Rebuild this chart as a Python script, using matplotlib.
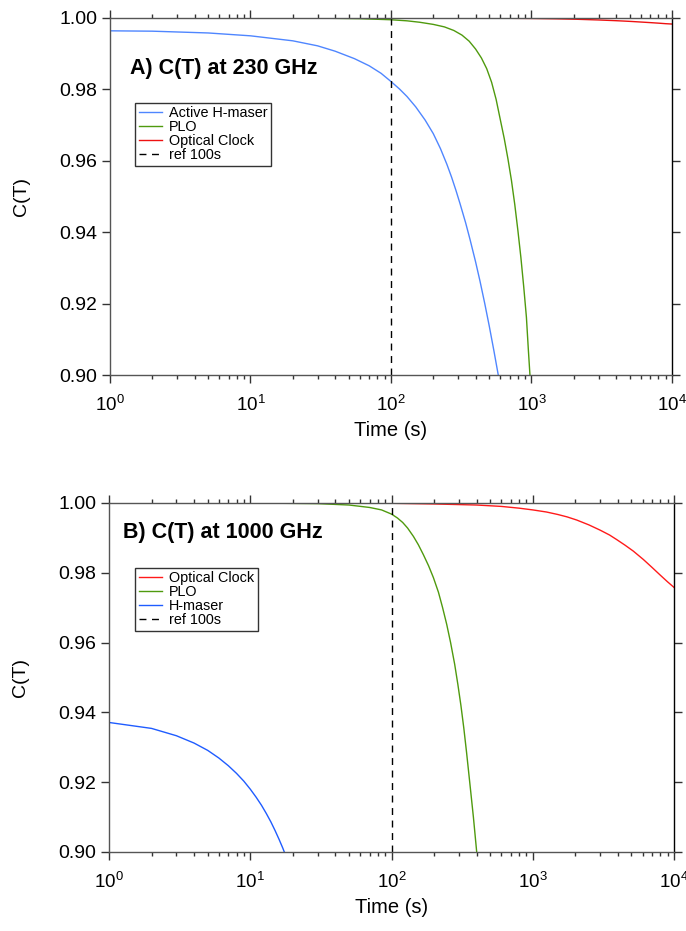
import numpy as np
import matplotlib
matplotlib.use("Agg")
import matplotlib.pyplot as plt
from matplotlib.ticker import FixedLocator, FormatStrFormatter, LogLocator

plt.rcParams['font.family'] = ['Liberation Sans', 'DejaVu Sans']
plt.rcParams['mathtext.fontset'] = 'custom'
plt.rcParams['mathtext.rm'] = 'Liberation Sans'

# ---- panel A: 230 GHz ----
a_maser_t = [1, 2, 5, 10, 20, 30, 40, 55, 70, 85, 100, 115, 130, 150, 175, 200, 225, 250,
             270, 290, 310, 340, 365, 400, 430, 465, 500, 540, 580]
a_maser_c = [0.9964, 0.9963, 0.9958, 0.9950, 0.9936, 0.9922, 0.9907, 0.9886, 0.9866, 0.9845,
             0.9822, 0.9801, 0.9780, 0.9751, 0.9714, 0.9676, 0.9634, 0.9590, 0.9554, 0.9517,
             0.9480, 0.9426, 0.9380, 0.9317, 0.9263, 0.9200, 0.9138, 0.9068, 0.9000]

a_plo_t = [1, 10, 30, 60, 100, 130, 160, 200, 240, 280, 320, 360, 400, 440, 480, 520, 560,
           600, 640, 680, 720, 760, 800, 840, 880, 920, 950, 975]
a_plo_c = [1.0, 0.99999, 0.99995, 0.9998, 0.9995, 0.9992, 0.9988, 0.9982, 0.9975, 0.9965,
           0.9952, 0.9935, 0.9913, 0.9888, 0.9858, 0.9820, 0.9772, 0.9715, 0.9662, 0.9605,
           0.9545, 0.9478, 0.9405, 0.9330, 0.9248, 0.9162, 0.9070, 0.9000]

a_opt_t = [1, 100, 500, 1000, 1500, 2048, 3000, 3928, 4500, 5150, 6067, 7000, 8000, 9000,
           10000]
a_opt_c = [1.0, 0.99999, 0.99995, 0.99986, 0.99976, 0.99965, 0.99944, 0.99925, 0.99914,
           0.99902, 0.99885, 0.99870, 0.99855, 0.99840, 0.99830]

# ---- panel B: 1000 GHz ----
b_opt_t = [1, 100, 200, 400, 600, 800, 1000, 1250, 1500, 1750, 2048, 2500, 3000, 3500, 3928,
           4500, 5150, 6067, 7000, 8000, 9000, 10000]
b_opt_c = [1.0, 0.9999, 0.9997, 0.9994, 0.9990, 0.9985, 0.9980, 0.9974, 0.9967, 0.9960,
           0.9951, 0.9937, 0.9922, 0.9908, 0.9895, 0.9879, 0.9862, 0.9838, 0.9815, 0.9793,
           0.9774, 0.9758]

b_plo_t = [1, 10, 30, 50, 70, 85, 100, 110, 120, 130, 143, 155, 168, 183, 198, 215, 230,
           246, 262, 280, 295, 310, 325, 340, 359, 380, 401]
b_plo_c = [1.0, 0.99998, 0.9998, 0.9994, 0.9987, 0.9980, 0.9968, 0.9957, 0.9944, 0.9928,
           0.9904, 0.9880, 0.9852, 0.9820, 0.9786, 0.9744, 0.9700, 0.9652, 0.9600, 0.9538,
           0.9480, 0.9420, 0.9355, 0.9285, 0.9195, 0.9100, 0.9000]

b_maser_t = list(range(1, 19))
b_maser_c = [0.9371, 0.9354, 0.9333, 0.9312, 0.9291, 0.9269, 0.9247, 0.9225, 0.9203, 0.9180,
             0.9157, 0.9134, 0.9110, 0.9086, 0.9061, 0.9036, 0.9011, 0.8985]

ref_t = 100
yticks = [0.90, 0.92, 0.94, 0.96, 0.98, 1.00]

fig = plt.figure(figsize=(6.86, 9.31), dpi=100)
axA = fig.add_axes([0.1603, 0.5972, 0.8193, 0.3835])
axB = fig.add_axes([0.1589, 0.0849, 0.8236, 0.3749])


def style(ax):
    ax.set_xscale('log')
    ax.set_xlim(1, 1e4)
    ax.set_ylim(0.90, 1.00)
    ax.yaxis.set_major_locator(FixedLocator(yticks))
    ax.yaxis.set_major_formatter(FormatStrFormatter('%.2f'))
    ax.xaxis.set_major_locator(LogLocator(base=10, numticks=10))
    ax.xaxis.set_minor_locator(LogLocator(base=10, subs=np.arange(2, 10), numticks=10))
    ax.tick_params(which='both', direction='out', top=True, right=True,
                   color='#333333', width=1)
    ax.tick_params(which='major', length=6)
    ax.tick_params(which='minor', length=3.2)
    ax.tick_params(axis='y', labelsize=14, pad=3)
    ax.tick_params(axis='x', labelsize=13.5, pad=8)
    for s in ax.spines.values():
        s.set_color('#555555')
        s.set_linewidth(1)
    ax.spines['right'].set_color('black')
    ax.set_xlabel('Time (s)', fontsize=14.5, labelpad=5)
    ax.set_ylabel('C(T)', fontsize=14, labelpad=21)


def legend(ax, anchor):
    leg = ax.legend(loc='upper left', bbox_to_anchor=anchor, borderaxespad=0,
                    fontsize=10.4, frameon=True, fancybox=False, edgecolor='black',
                    handlelength=1.6, labelspacing=0.0, borderpad=0.25, handletextpad=0.5)
    leg.get_frame().set_linewidth(1)


style(axA)
axA.plot(a_maser_t, a_maser_c, color='#4f86ff', lw=1, label='Active H-maser')
axA.plot(a_plo_t, a_plo_c, color='#4f9a0e', lw=1, label='PLO')
axA.plot(a_opt_t, a_opt_c, color='#ee1111', lw=1, label='Optical Clock')
axA.axvline(ref_t, color='black', lw=1, ls=(0, (5, 4)), label='ref 100s')
axA.text(0.036, 0.843, 'A) C(T) at 230 GHz', transform=axA.transAxes,
         fontsize=15.5, fontweight='bold', va='baseline')
legend(axA, (0.0445, 0.763))

style(axB)
axB.plot(b_opt_t, b_opt_c, color='#ff1a1a', lw=1, label='Optical Clock')
axB.plot(b_plo_t, b_plo_c, color='#4f9a0e', lw=1, label='PLO')
axB.plot(b_maser_t, b_maser_c, color='#1f5cff', lw=1, label='H-maser')
axB.axvline(ref_t, color='black', lw=1, ls=(0, (5, 4)), label='ref 100s')
axB.text(0.025, 0.90, 'B) C(T) at 1000 GHz', transform=axB.transAxes,
         fontsize=15.5, fontweight='bold', va='baseline')
legend(axB, (0.046, 0.814))

fig.savefig('out.png', dpi=100)
